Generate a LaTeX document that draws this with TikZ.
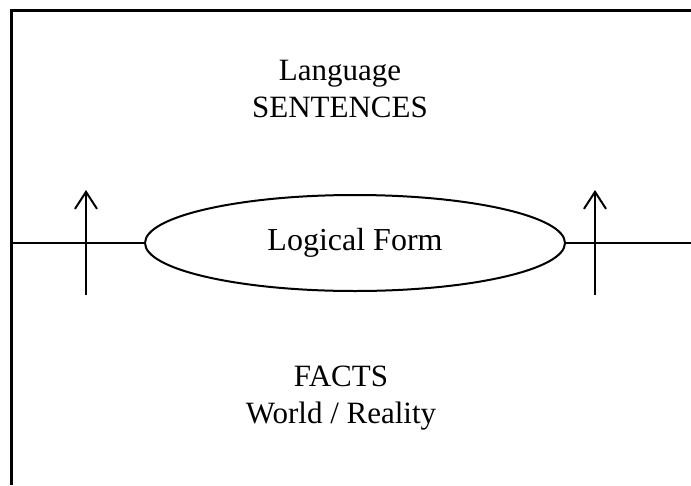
\documentclass[tikz,border=0pt]{standalone}
\usepackage{fontspec}
\setmainfont{Liberation Serif}
\usetikzlibrary{shapes.geometric,arrows.meta}
\begin{document}
\begin{tikzpicture}[x=1pt,y=-1pt,
  label/.style={font=\fontsize{31}{37}\selectfont, align=center, inner sep=0pt},
  frame/.style={line width=3pt},
  thin line/.style={line width=2pt},
  uparrow/.style={line width=2pt, -{Straight Barb[length=17pt,width=22pt]}},
  oval/.style={ellipse, draw, line width=2pt, minimum width=420pt, minimum height=96pt, inner sep=0pt,
    font=\fontsize{32}{37}\selectfont}]
  \useasboundingbox (0,0) rectangle (691,485);

  % outer frame: top and left edges
  \coordinate (tl) at (11,10);
  \coordinate (tr) at (691,10);
  \coordinate (bl) at (11,485);
  \draw[frame] (tr) -- (tl) -- (bl);

  % central oval
  \node[oval] (lf) at (355,243) {Logical Form};

  % horizontal divider through the oval
  \coordinate (hl) at (11,243);
  \coordinate (hr) at (691,243);
  \draw[thin line] (hl) -- (lf.west);
  \draw[thin line] (lf.east) -- (hr);

  % upward arrows
  \coordinate (a1s) at (86,295);
  \coordinate (a1e) at (86,190);
  \coordinate (a2s) at (595,295);
  \coordinate (a2e) at (595,190);
  \draw[uparrow] (a1s) -- (a1e);
  \draw[uparrow] (a2s) -- (a2e);

  % texts
  \node[label] (lang) at (340,89) {Language\\SENTENCES};
  \node[label] (facts) at (341,398) {FACTS\\World / Reality};
\end{tikzpicture}
\end{document}
